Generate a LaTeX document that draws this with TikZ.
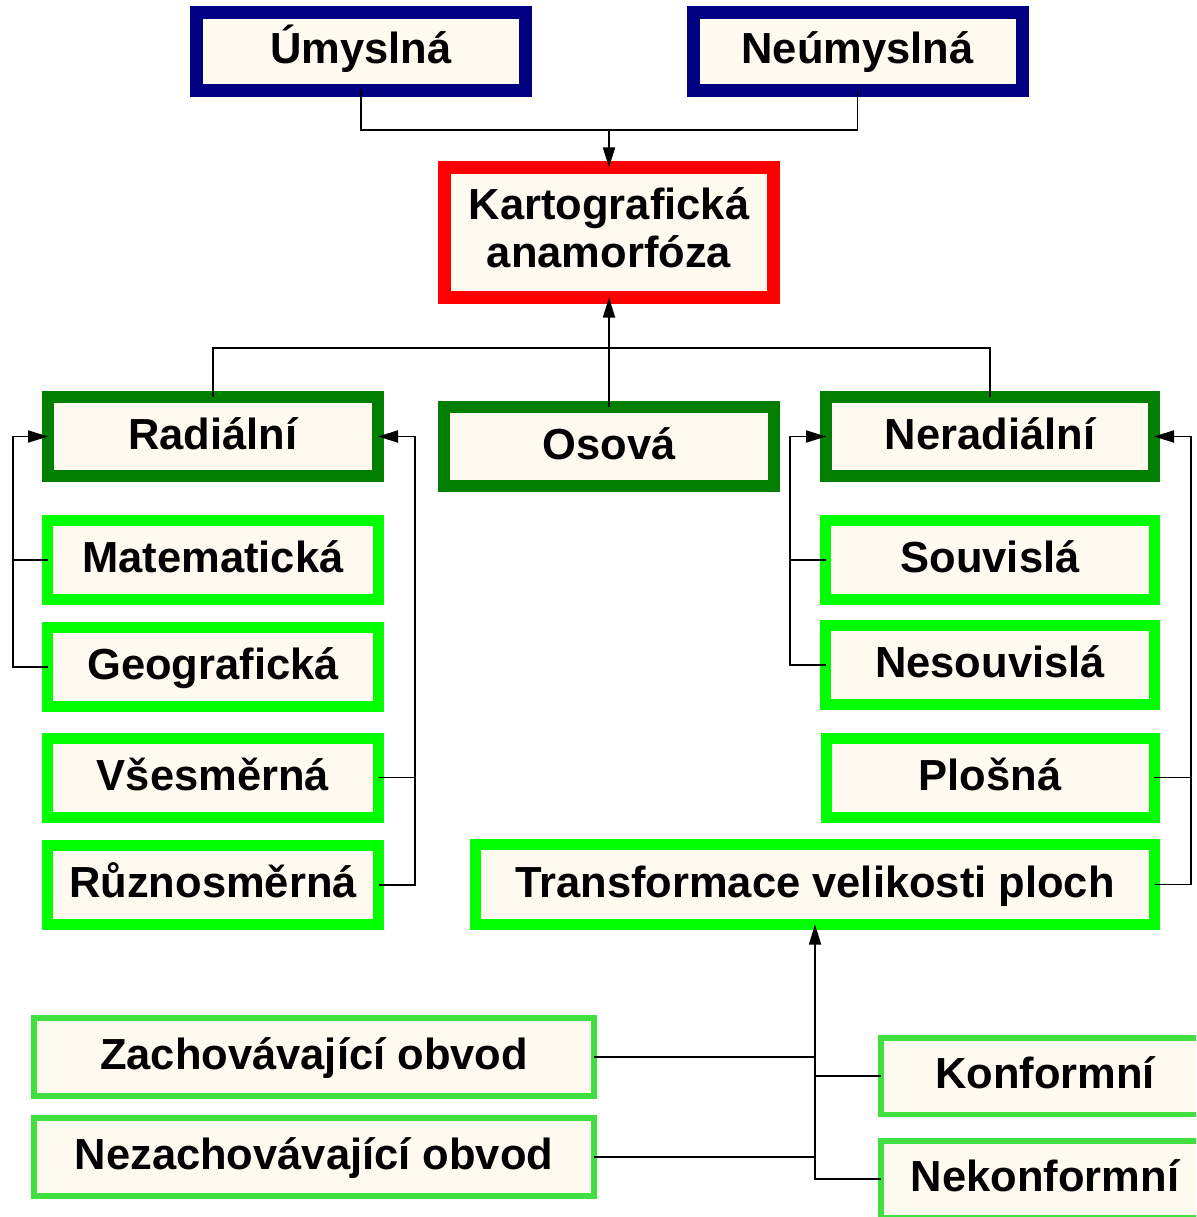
\documentclass[tikz,border=0pt]{standalone}
\usepackage{fontspec}
\setmainfont{Liberation Sans}
\usetikzlibrary{arrows.meta}
\definecolor{boxfill}{HTML}{FFFAF0}
\definecolor{navyb}{HTML}{000080}
\definecolor{redb}{HTML}{FF0000}
\definecolor{dgreen}{HTML}{007F00}
\definecolor{bgreen}{HTML}{00FF00}
\definecolor{lgreen}{HTML}{40E040}
\tikzset{
  basebox/.style={draw, fill=boxfill, inner sep=0pt, outer sep=0pt, align=center,
    text height=34pt, text depth=9pt,
    font=\fontsize{43.5}{48}\selectfont\bfseries},
  bluebox/.style={basebox, draw=navyb, line width=13pt, minimum width=329pt, minimum height=78pt},
  redbox/.style={basebox, draw=redb, line width=13pt, minimum width=329pt, minimum height=130pt,
    text height={}, text depth=9pt},
  dgbox/.style={basebox, draw=dgreen, line width=12pt, minimum width=330pt, minimum height=79pt},
  bgbox/.style={basebox, draw=bgreen, line width=11pt, minimum width=331pt, minimum height=79pt},
  lgbox/.style={basebox, draw=lgreen, line width=5.5pt, minimum height=78pt},
  conn/.style={draw=black, line width=1.8pt},
  arr/.style={conn, -{Triangle[length=20pt,width=12pt]}}
}
\begin{document}
\begin{tikzpicture}[x=1pt,y=-1pt]
\useasboundingbox (0,0) rectangle (1196,1217);
\clip (0,0) rectangle (1196,1217);
% top
\node[bluebox] (um) at (361,51.5) {Úmyslná};
\node[bluebox] (neum) at (857.5,51.5) {Neúmyslná};
\node[redbox] (karto) at (609,232.5) {Kartografická\\anamorfóza};
% second level
\node[dgbox] (rad) at (213,436.5) {Radiální};
\node[dgbox] (os) at (609,446.5) {Osová};
\node[dgbox, minimum width=328pt] (nerad) at (990,436.5) {Neradiální};
% left column
\node[bgbox] (mat) at (213,560) {Matematická};
\node[bgbox] (geo) at (213,667) {Geografická};
\node[bgbox] (vse) at (213,777.5) {Všesměrná};
\node[bgbox] (rozn) at (213,885) {Různosměrná};
% right column
\node[bgbox, minimum width=329pt] (souv) at (990,560) {Souvislá};
\node[bgbox, minimum width=329pt] (nesouv) at (990,665) {Nesouvislá};
\node[bgbox, minimum width=328pt] (plos) at (990,777.5) {Plošná};
\node[bgbox, minimum width=679pt, minimum height=80pt] (trans) at (815,884.5) {Transformace velikosti ploch};
% bottom
\node[lgbox, minimum width=560pt] (zach) at (314,1057) {Zachovávající obvod};
\node[lgbox, minimum width=560pt] (nezach) at (314,1157) {Nezachovávající obvod};
\node[lgbox, minimum width=328pt, minimum height=76.5pt] (konf) at (1045,1076) {Konformní};
\node[lgbox, minimum width=328pt, minimum height=76.5pt] (nekonf) at (1045,1179) {Nekonformní};
% junction coordinates
\coordinate (j1) at (609,130);
\coordinate (j2) at (609,348);
\coordinate (lx) at (13,436.5);
\coordinate (rx) at (415,436.5);
\coordinate (nlx) at (790,436.5);
\coordinate (nrx) at (1191,436.5);
% connectors
\draw[conn] (um.south) |- (j1) -| (neum.south);
\draw[arr] (j1) -- (karto.north);
\draw[conn] (rad.north) |- (j2) -| (nerad.north);
\draw[arr] (os.north) -- (karto.south);
% Radialni left
\draw[arr] (geo.west) -| (lx) -- (rad.west);
\draw[conn] (mat.west) -- (mat.west -| lx);
% Radialni right
\draw[arr] (rozn.east) -| (rx) -- (rad.east);
\draw[conn] (vse.east) -- (vse.east -| rx);
% Neradialni left
\draw[arr] (nesouv.west) -| (nlx) -- (nerad.west);
\draw[conn] (souv.west) -- (souv.west -| nlx);
% Neradialni right
\draw[arr] (trans.east) -| (nrx) -- (nerad.east);
\draw[conn] (plos.east) -- (plos.east -| nrx);
% bottom
\draw[arr] (nekonf.west) -| (trans.south);
\draw[conn] (konf.west) -- (konf.west -| trans.south);
\draw[conn] (zach.east) -- (zach.east -| trans.south);
\draw[conn] (nezach.east) -- (nezach.east -| trans.south);
\end{tikzpicture}
\end{document}
